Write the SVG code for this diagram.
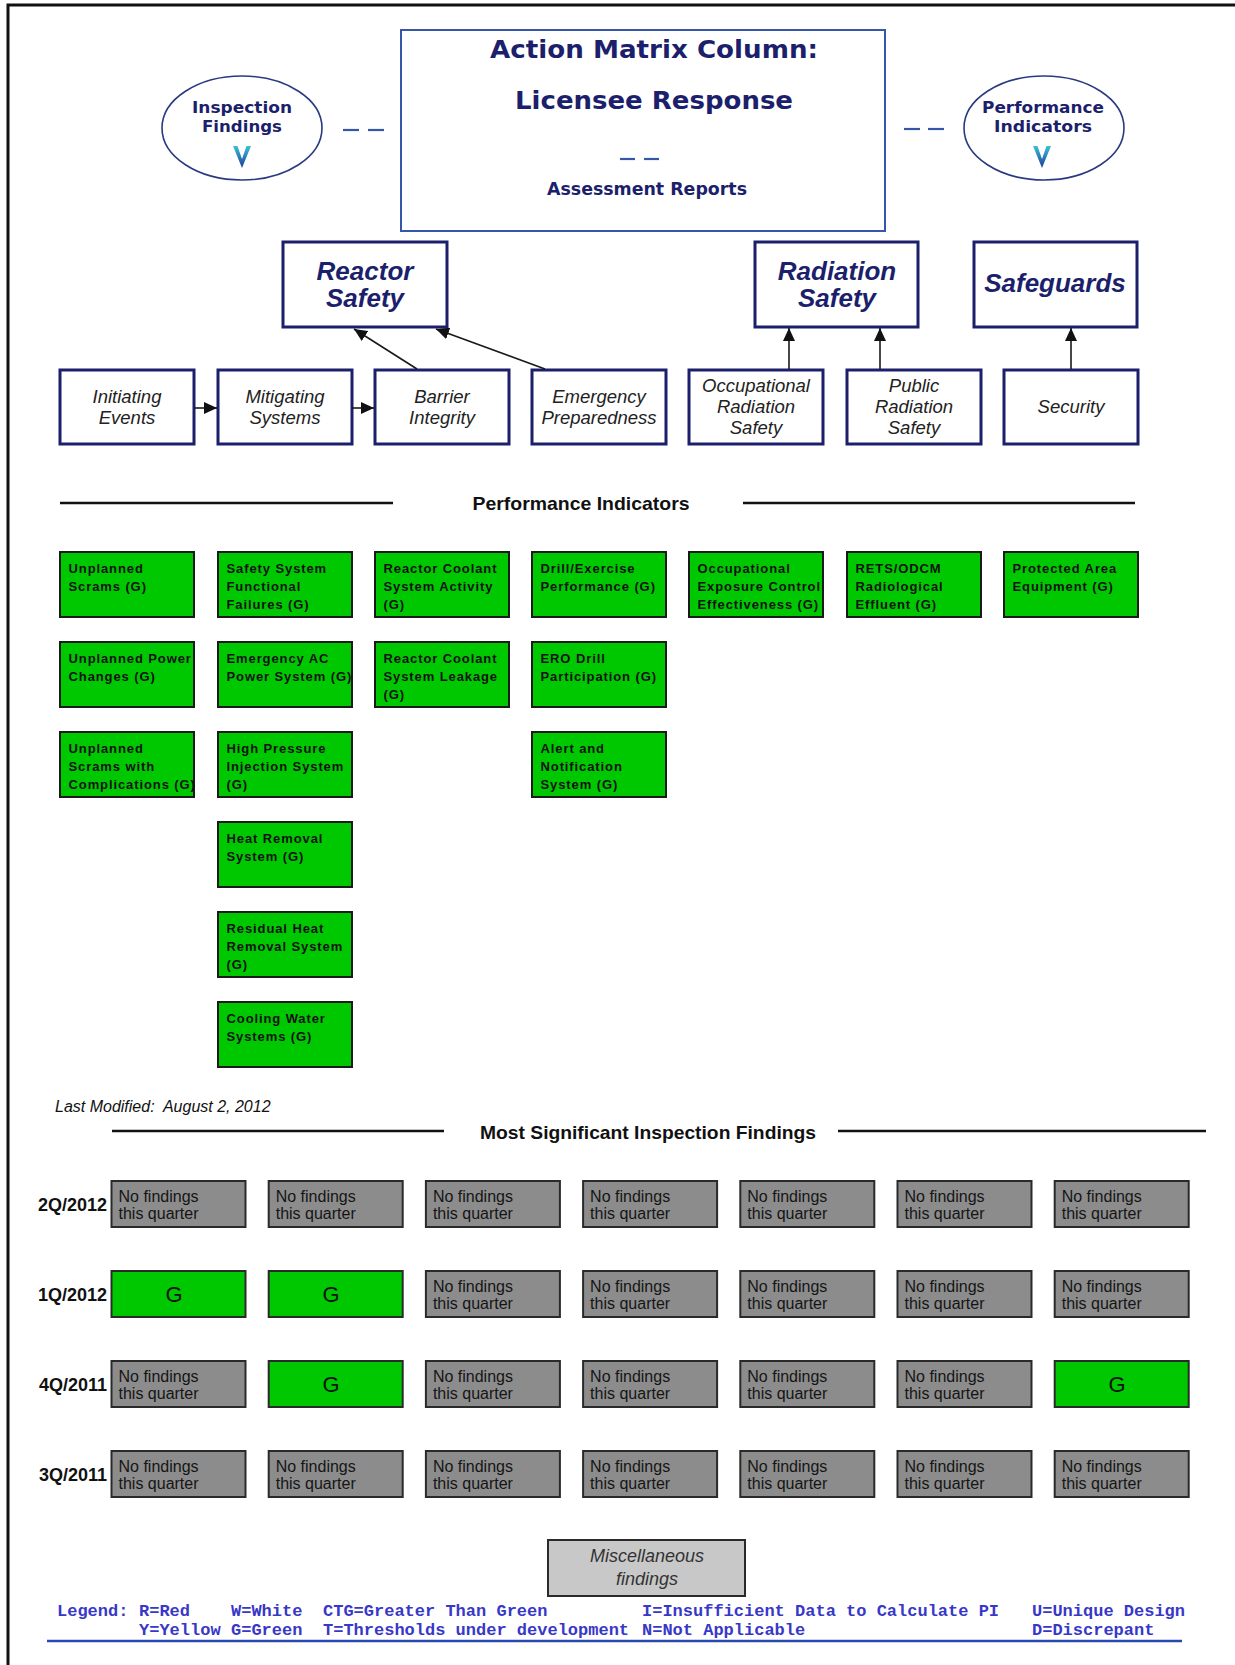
<svg xmlns="http://www.w3.org/2000/svg" width="1235" height="1665" viewBox="0 0 1235 1665">
<style>
.hdr{font-family:"DejaVu Sans","Liberation Sans",sans-serif;font-weight:bold;fill:#1c1f6b}
.ell{fill:#fff;stroke:#2a3a80;stroke-width:1.6}
.etx{font-family:"DejaVu Sans","Liberation Sans",sans-serif;font-weight:bold;font-size:16px;fill:#1c1f6b;text-anchor:middle}
.dash{stroke:#3656a8;stroke-width:2.2}
.cat{fill:#fff;stroke:#1c1f6b;stroke-width:3}
.ctx{font-family:"Liberation Sans",Arial,sans-serif;font-weight:bold;font-style:italic;font-size:26px;fill:#1c1f6b;text-anchor:middle}
.sub{fill:#fff;stroke:#1c1f6b;stroke-width:3}
.stx{font-family:"Liberation Sans",Arial,sans-serif;font-style:italic;font-size:18.5px;fill:#222;text-anchor:middle}
.sec{font-family:"Liberation Sans",Arial,sans-serif;font-weight:bold;font-size:18.5px;fill:#111;text-anchor:middle}
.rule{stroke:#111;stroke-width:2.6}
.pi{fill:#00c800;stroke:#1a1a1a;stroke-width:2}
.pit{font-family:"Liberation Sans",Arial,sans-serif;font-weight:bold;font-size:13px;letter-spacing:0.9px;fill:#111}
.nf{fill:#8c8c8c;stroke:#2a2a2a;stroke-width:2}
.g{fill:#00c800;stroke:#2a2a2a;stroke-width:2}
.nft{font-family:"Liberation Sans",Arial,sans-serif;font-size:16px;fill:#151515}
.gt{font-family:"Liberation Sans",Arial,sans-serif;font-size:22px;fill:#111;text-anchor:middle}
.rl{font-family:"Liberation Sans",Arial,sans-serif;font-weight:bold;font-size:18px;fill:#111;text-anchor:end}
.lg{font-family:"Liberation Mono","Courier New",monospace;font-weight:bold;font-size:17px;fill:#3838c8}
.conn{stroke:#1a1a1a;stroke-width:1.6;fill:none}
</style>
<defs>
<marker id="ah" markerUnits="userSpaceOnUse" markerWidth="14" markerHeight="12" refX="13" refY="6" orient="auto">
<path d="M0,0 L13,6 L0,12 z" fill="#111"/>
</marker>
<linearGradient id="chev" x1="0" y1="0" x2="0" y2="1">
<stop offset="0" stop-color="#3cc0d8"/>
<stop offset="1" stop-color="#1b3c9a"/>
</linearGradient>
</defs>
<rect x="0" y="0" width="1235" height="1665" fill="#fff"/>
<path d="M8,1665 L8,5 L1235,5" fill="none" stroke="#111" stroke-width="3"/>

<g id="header">
<rect x="401" y="30" width="484" height="201" fill="#fff" stroke="#3656a8" stroke-width="2"/>
<text class="hdr" x="654" y="58" font-size="25" text-anchor="middle" textLength="328" lengthAdjust="spacingAndGlyphs">Action Matrix Column:</text>
<text class="hdr" x="654" y="109" font-size="25" text-anchor="middle" textLength="278" lengthAdjust="spacingAndGlyphs">Licensee Response</text>
<line class="dash" x1="620" y1="159" x2="635" y2="159"/>
<line class="dash" x1="644" y1="159" x2="659" y2="159"/>
<text class="hdr" x="647" y="195" font-size="17" text-anchor="middle" textLength="200" lengthAdjust="spacingAndGlyphs">Assessment Reports</text>
</g>

<g id="inspection-findings">
<ellipse class="ell" cx="242" cy="128" rx="80" ry="52"/>
<text class="etx" x="242" y="113" textLength="100" lengthAdjust="spacingAndGlyphs">Inspection</text>
<text class="etx" x="242" y="132" textLength="80" lengthAdjust="spacingAndGlyphs">Findings</text>
<polygon points="233,146 237.5,146 242,159 246.5,146 251,146 242,168" fill="url(#chev)"/>
</g>
<g id="performance-indicators">
<ellipse class="ell" cx="1044" cy="128" rx="80" ry="52"/>
<text class="etx" x="1043" y="113" textLength="122" lengthAdjust="spacingAndGlyphs">Performance</text>
<text class="etx" x="1043" y="132" textLength="98" lengthAdjust="spacingAndGlyphs">Indicators</text>
<polygon points="1033,146 1037.5,146 1042,159 1046.5,146 1051,146 1042,168" fill="url(#chev)"/>
</g>
<g id="dashes">
<line class="dash" x1="343" y1="130" x2="359" y2="130"/>
<line class="dash" x1="368" y1="130" x2="384" y2="130"/>
<line class="dash" x1="904" y1="129" x2="920" y2="129"/>
<line class="dash" x1="928" y1="129" x2="944" y2="129"/>
</g>

<g id="reactor-safety"><rect class="cat" x="283" y="242" width="164" height="85"/>
<text class="ctx" x="365" y="280">Reactor</text><text class="ctx" x="365" y="307">Safety</text></g>
<g id="radiation-safety"><rect class="cat" x="755" y="242" width="163" height="85"/>
<text class="ctx" x="837" y="280">Radiation</text><text class="ctx" x="837" y="307">Safety</text></g>
<g id="safeguards"><rect class="cat" x="974" y="242" width="163" height="85"/>
<text class="ctx" x="1055" y="292">Safeguards</text></g>

<g id="initiating-events"><rect class="sub" x="60" y="370" width="134" height="74"/>
<text class="stx" x="127" y="403">Initiating</text><text class="stx" x="127" y="424">Events</text></g>
<g id="mitigating-systems"><rect class="sub" x="218" y="370" width="134" height="74"/>
<text class="stx" x="285" y="403">Mitigating</text><text class="stx" x="285" y="424">Systems</text></g>
<g id="barrier-integrity"><rect class="sub" x="375" y="370" width="134" height="74"/>
<text class="stx" x="442" y="403">Barrier</text><text class="stx" x="442" y="424">Integrity</text></g>
<g id="emergency-preparedness"><rect class="sub" x="532" y="370" width="134" height="74"/>
<text class="stx" x="599" y="403">Emergency</text><text class="stx" x="599" y="424">Preparedness</text></g>
<g id="occupational-radiation-safety"><rect class="sub" x="689" y="370" width="134" height="74"/>
<text class="stx" x="756" y="392">Occupational</text><text class="stx" x="756" y="413">Radiation</text><text class="stx" x="756" y="434">Safety</text></g>
<g id="public-radiation-safety"><rect class="sub" x="847" y="370" width="134" height="74"/>
<text class="stx" x="914" y="392">Public</text><text class="stx" x="914" y="413">Radiation</text><text class="stx" x="914" y="434">Safety</text></g>
<g id="security"><rect class="sub" x="1004" y="370" width="134" height="74"/>
<text class="stx" x="1071" y="413">Security</text></g>

<g id="connectors">
<line class="conn" x1="194" y1="408" x2="217" y2="408" marker-end="url(#ah)"/>
<line class="conn" x1="352" y1="408" x2="374" y2="408" marker-end="url(#ah)"/>
<line class="conn" x1="417" y1="369" x2="354" y2="329" marker-end="url(#ah)"/>
<line class="conn" x1="545" y1="369" x2="436" y2="329" marker-end="url(#ah)"/>
<line class="conn" x1="789" y1="369" x2="789" y2="328" marker-end="url(#ah)"/>
<line class="conn" x1="880" y1="369" x2="880" y2="328" marker-end="url(#ah)"/>
<line class="conn" x1="1071" y1="369" x2="1071" y2="328" marker-end="url(#ah)"/>
</g>

<g id="pi-title">
<line class="rule" x1="60" y1="503" x2="393" y2="503"/>
<text class="sec" x="581" y="510" textLength="217" lengthAdjust="spacingAndGlyphs">Performance Indicators</text>
<line class="rule" x1="743" y1="503" x2="1135" y2="503"/>
</g>

<g id="pi-unplanned-scrams"><rect class="pi" x="60" y="552" width="134" height="65"/>
<text class="pit" x="68.5" y="572.5">Unplanned</text><text class="pit" x="68.5" y="590.5">Scrams (G)</text></g>
<g id="pi-unplanned-power"><rect class="pi" x="60" y="642" width="134" height="65"/>
<text class="pit" x="68.5" y="662.5">Unplanned Power</text><text class="pit" x="68.5" y="680.5">Changes (G)</text></g>
<g id="pi-scrams-complications"><rect class="pi" x="60" y="732" width="134" height="65"/>
<text class="pit" x="68.5" y="752.5">Unplanned</text><text class="pit" x="68.5" y="770.5">Scrams with</text><text class="pit" x="68.5" y="788.5">Complications (G)</text></g>

<g id="pi-ssff"><rect class="pi" x="218" y="552" width="134" height="65"/>
<text class="pit" x="226.5" y="572.5">Safety System</text><text class="pit" x="226.5" y="590.5">Functional</text><text class="pit" x="226.5" y="608.5">Failures (G)</text></g>
<g id="pi-eac"><rect class="pi" x="218" y="642" width="134" height="65"/>
<text class="pit" x="226.5" y="662.5">Emergency AC</text><text class="pit" x="226.5" y="680.5">Power System (G)</text></g>
<g id="pi-hpi"><rect class="pi" x="218" y="732" width="134" height="65"/>
<text class="pit" x="226.5" y="752.5">High Pressure</text><text class="pit" x="226.5" y="770.5">Injection System</text><text class="pit" x="226.5" y="788.5">(G)</text></g>
<g id="pi-hr"><rect class="pi" x="218" y="822" width="134" height="65"/>
<text class="pit" x="226.5" y="842.5">Heat Removal</text><text class="pit" x="226.5" y="860.5">System (G)</text></g>
<g id="pi-rhr"><rect class="pi" x="218" y="912" width="134" height="65"/>
<text class="pit" x="226.5" y="932.5">Residual Heat</text><text class="pit" x="226.5" y="950.5">Removal System</text><text class="pit" x="226.5" y="968.5">(G)</text></g>
<g id="pi-cw"><rect class="pi" x="218" y="1002" width="134" height="65"/>
<text class="pit" x="226.5" y="1022.5">Cooling Water</text><text class="pit" x="226.5" y="1040.5">Systems (G)</text></g>

<g id="pi-rcs-activity"><rect class="pi" x="375" y="552" width="134" height="65"/>
<text class="pit" x="383.5" y="572.5">Reactor Coolant</text><text class="pit" x="383.5" y="590.5">System Activity</text><text class="pit" x="383.5" y="608.5">(G)</text></g>
<g id="pi-rcs-leakage"><rect class="pi" x="375" y="642" width="134" height="65"/>
<text class="pit" x="383.5" y="662.5">Reactor Coolant</text><text class="pit" x="383.5" y="680.5">System Leakage</text><text class="pit" x="383.5" y="698.5">(G)</text></g>

<g id="pi-drill"><rect class="pi" x="532" y="552" width="134" height="65"/>
<text class="pit" x="540.5" y="572.5">Drill/Exercise</text><text class="pit" x="540.5" y="590.5">Performance (G)</text></g>
<g id="pi-ero"><rect class="pi" x="532" y="642" width="134" height="65"/>
<text class="pit" x="540.5" y="662.5">ERO Drill</text><text class="pit" x="540.5" y="680.5">Participation (G)</text></g>
<g id="pi-ans"><rect class="pi" x="532" y="732" width="134" height="65"/>
<text class="pit" x="540.5" y="752.5">Alert and</text><text class="pit" x="540.5" y="770.5">Notification</text><text class="pit" x="540.5" y="788.5">System (G)</text></g>

<g id="pi-oec"><rect class="pi" x="689" y="552" width="134" height="65"/>
<text class="pit" x="697.5" y="572.5">Occupational</text><text class="pit" x="697.5" y="590.5">Exposure Control</text><text class="pit" x="697.5" y="608.5">Effectiveness (G)</text></g>
<g id="pi-rets"><rect class="pi" x="847" y="552" width="134" height="65"/>
<text class="pit" x="855.5" y="572.5">RETS/ODCM</text><text class="pit" x="855.5" y="590.5">Radiological</text><text class="pit" x="855.5" y="608.5">Effluent (G)</text></g>
<g id="pi-pa"><rect class="pi" x="1004" y="552" width="134" height="65"/>
<text class="pit" x="1012.5" y="572.5">Protected Area</text><text class="pit" x="1012.5" y="590.5">Equipment (G)</text></g>

<text x="55" y="1112" font-family="Liberation Sans, Arial, sans-serif" font-style="italic" font-size="16" fill="#111" xml:space="preserve">Last Modified:  August 2, 2012</text>

<g id="findings-title">
<line class="rule" x1="112" y1="1131" x2="444" y2="1131"/>
<text class="sec" x="648" y="1139" textLength="336" lengthAdjust="spacingAndGlyphs">Most Significant Inspection Findings</text>
<line class="rule" x1="838" y1="1131" x2="1206" y2="1131"/>
</g>

<g id="row-2Q2012">
<text class="rl" x="107" y="1211">2Q/2012</text>
<rect class="nf" x="111.5" y="1181" width="134" height="46"/><text class="nft" x="118.5" y="1202">No findings</text><text class="nft" x="118.5" y="1219">this quarter</text>
<rect class="nf" x="268.7" y="1181" width="134" height="46"/><text class="nft" x="275.7" y="1202">No findings</text><text class="nft" x="275.7" y="1219">this quarter</text>
<rect class="nf" x="425.9" y="1181" width="134" height="46"/><text class="nft" x="432.9" y="1202">No findings</text><text class="nft" x="432.9" y="1219">this quarter</text>
<rect class="nf" x="583.1" y="1181" width="134" height="46"/><text class="nft" x="590.1" y="1202">No findings</text><text class="nft" x="590.1" y="1219">this quarter</text>
<rect class="nf" x="740.3" y="1181" width="134" height="46"/><text class="nft" x="747.3" y="1202">No findings</text><text class="nft" x="747.3" y="1219">this quarter</text>
<rect class="nf" x="897.5" y="1181" width="134" height="46"/><text class="nft" x="904.5" y="1202">No findings</text><text class="nft" x="904.5" y="1219">this quarter</text>
<rect class="nf" x="1054.7" y="1181" width="134" height="46"/><text class="nft" x="1061.7" y="1202">No findings</text><text class="nft" x="1061.7" y="1219">this quarter</text>
</g>
<g id="row-1Q2012">
<text class="rl" x="107" y="1301">1Q/2012</text>
<rect class="g" x="111.5" y="1271" width="134" height="46"/><text class="gt" x="174" y="1302">G</text>
<rect class="g" x="268.7" y="1271" width="134" height="46"/><text class="gt" x="331" y="1302">G</text>
<rect class="nf" x="425.9" y="1271" width="134" height="46"/><text class="nft" x="432.9" y="1292">No findings</text><text class="nft" x="432.9" y="1309">this quarter</text>
<rect class="nf" x="583.1" y="1271" width="134" height="46"/><text class="nft" x="590.1" y="1292">No findings</text><text class="nft" x="590.1" y="1309">this quarter</text>
<rect class="nf" x="740.3" y="1271" width="134" height="46"/><text class="nft" x="747.3" y="1292">No findings</text><text class="nft" x="747.3" y="1309">this quarter</text>
<rect class="nf" x="897.5" y="1271" width="134" height="46"/><text class="nft" x="904.5" y="1292">No findings</text><text class="nft" x="904.5" y="1309">this quarter</text>
<rect class="nf" x="1054.7" y="1271" width="134" height="46"/><text class="nft" x="1061.7" y="1292">No findings</text><text class="nft" x="1061.7" y="1309">this quarter</text>
</g>
<g id="row-4Q2011">
<text class="rl" x="107" y="1391">4Q/2011</text>
<rect class="nf" x="111.5" y="1361" width="134" height="46"/><text class="nft" x="118.5" y="1382">No findings</text><text class="nft" x="118.5" y="1399">this quarter</text>
<rect class="g" x="268.7" y="1361" width="134" height="46"/><text class="gt" x="331" y="1392">G</text>
<rect class="nf" x="425.9" y="1361" width="134" height="46"/><text class="nft" x="432.9" y="1382">No findings</text><text class="nft" x="432.9" y="1399">this quarter</text>
<rect class="nf" x="583.1" y="1361" width="134" height="46"/><text class="nft" x="590.1" y="1382">No findings</text><text class="nft" x="590.1" y="1399">this quarter</text>
<rect class="nf" x="740.3" y="1361" width="134" height="46"/><text class="nft" x="747.3" y="1382">No findings</text><text class="nft" x="747.3" y="1399">this quarter</text>
<rect class="nf" x="897.5" y="1361" width="134" height="46"/><text class="nft" x="904.5" y="1382">No findings</text><text class="nft" x="904.5" y="1399">this quarter</text>
<rect class="g" x="1054.7" y="1361" width="134" height="46"/><text class="gt" x="1117" y="1392">G</text>
</g>
<g id="row-3Q2011">
<text class="rl" x="107" y="1481">3Q/2011</text>
<rect class="nf" x="111.5" y="1451" width="134" height="46"/><text class="nft" x="118.5" y="1472">No findings</text><text class="nft" x="118.5" y="1489">this quarter</text>
<rect class="nf" x="268.7" y="1451" width="134" height="46"/><text class="nft" x="275.7" y="1472">No findings</text><text class="nft" x="275.7" y="1489">this quarter</text>
<rect class="nf" x="425.9" y="1451" width="134" height="46"/><text class="nft" x="432.9" y="1472">No findings</text><text class="nft" x="432.9" y="1489">this quarter</text>
<rect class="nf" x="583.1" y="1451" width="134" height="46"/><text class="nft" x="590.1" y="1472">No findings</text><text class="nft" x="590.1" y="1489">this quarter</text>
<rect class="nf" x="740.3" y="1451" width="134" height="46"/><text class="nft" x="747.3" y="1472">No findings</text><text class="nft" x="747.3" y="1489">this quarter</text>
<rect class="nf" x="897.5" y="1451" width="134" height="46"/><text class="nft" x="904.5" y="1472">No findings</text><text class="nft" x="904.5" y="1489">this quarter</text>
<rect class="nf" x="1054.7" y="1451" width="134" height="46"/><text class="nft" x="1061.7" y="1472">No findings</text><text class="nft" x="1061.7" y="1489">this quarter</text>
</g>

<g id="misc-findings">
<rect x="548" y="1540" width="197" height="56" fill="#c8c8c8" stroke="#2a2a2a" stroke-width="2"/>
<text x="647" y="1562" font-family="Liberation Sans, Arial, sans-serif" font-style="italic" font-size="18" fill="#333" text-anchor="middle">Miscellaneous</text>
<text x="647" y="1585" font-family="Liberation Sans, Arial, sans-serif" font-style="italic" font-size="18" fill="#333" text-anchor="middle">findings</text>
</g>

<g id="legend">
<text class="lg" y="1616"><tspan x="57">Legend:</tspan><tspan x="139">R=Red</tspan><tspan x="231">W=White</tspan><tspan x="323">CTG=Greater Than Green</tspan><tspan x="642">I=Insufficient Data to Calculate PI</tspan><tspan x="1032">U=Unique Design</tspan></text>
<text class="lg" y="1635"><tspan x="139">Y=Yellow</tspan><tspan x="231">G=Green</tspan><tspan x="323">T=Thresholds under development</tspan><tspan x="642">N=Not Applicable</tspan><tspan x="1032">D=Discrepant</tspan></text>
<line x1="47" y1="1641" x2="1182" y2="1641" stroke="#2848b0" stroke-width="2.6"/>
</g>
</svg>
